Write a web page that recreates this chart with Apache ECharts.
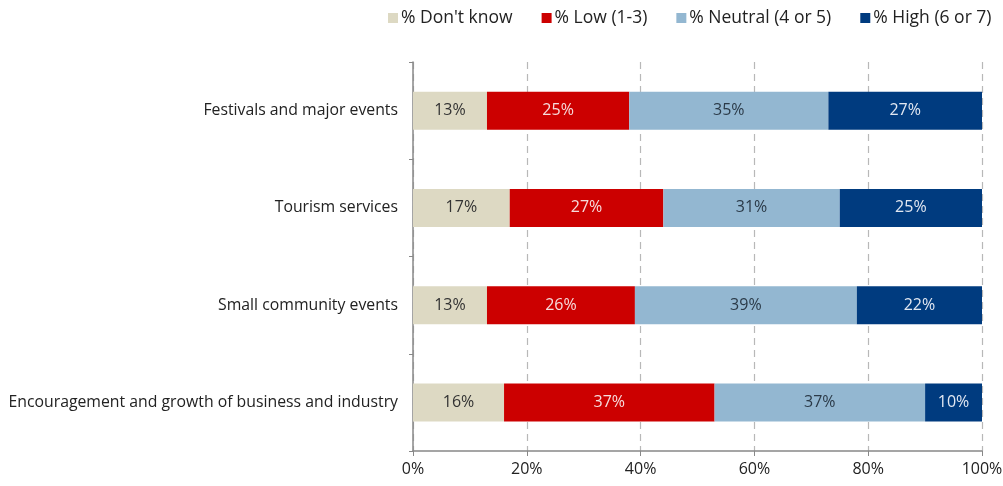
<!DOCTYPE html>
<html>
<head>
<meta charset="utf-8">
<style>
  html, body { margin: 0; padding: 0; background: #fff; }
  #chart { width: 1003px; height: 486px; }
</style>
<script src="https://cdn.jsdelivr.net/npm/echarts@6/dist/echarts.min.js"></script>
</head>
<body>
<div id="chart"></div>
<script>
// Categories listed bottom-to-top (category axis runs upward)
const categories = [
  'Encouragement and growth of business and industry',
  'Small community events',
  'Tourism services',
  'Festivals and major events'
];
const dontKnow = [16, 13, 17, 13];
const low      = [37, 26, 27, 25];
const neutral  = [37, 39, 31, 35];
const high     = [10, 22, 25, 27];
const xTicks = [0, 20, 40, 60, 80, 100];

const FONT = 'Open Sans';

function seriesDef(name, data, color, labelColor) {
  return {
    name: name,
    type: 'bar',
    stack: 'total',
    data: data,
    barWidth: 38,
    itemStyle: { color: color },
    label: {
      show: true,
      position: 'inside',
      formatter: p => p.value + '%',
      color: labelColor,
      fontFamily: FONT,
      fontSize: 16
    }
  };
}

const chart = echarts.init(document.getElementById('chart'));
chart.setOption({
  animation: false,
  textStyle: { fontFamily: FONT },
  legend: {
    top: 4,
    left: 383,
    itemWidth: 10,
    itemHeight: 10,
    itemGap: 29,
    icon: 'rect',
    textStyle: { fontFamily: FONT, fontSize: 17.5, color: '#222', padding: [0, 0, 0, -2] },
    data: ['% Don\'t know', '% Low (1-3)', '% Neutral (4 or 5)', '% High (6 or 7)']
  },
  grid: { left: 413, right: 21, top: 62, bottom: 35, containLabel: false, outerBoundsMode: 'none' },
  xAxis: {
    type: 'value',
    min: xTicks[0],
    max: xTicks[xTicks.length - 1],
    interval: 20,
    axisLine: { show: true, lineStyle: { color: '#888', width: 1.5 } },
    axisTick: { show: true, length: 5, lineStyle: { color: '#888' } },
    axisLabel: {
      formatter: v => v + '%',
      color: '#222',
      fontFamily: FONT,
      fontSize: 16,
      margin: 10
    },
    splitLine: {
      show: true,
      lineStyle: { color: '#b8b8b8', type: [7, 5], width: 1.2 }
    }
  },
  yAxis: {
    type: 'category',
    data: categories,
    axisLine: { show: true, lineStyle: { color: '#888', width: 1.5 } },
    axisTick: { show: true, length: 4, lineStyle: { color: '#888' } },
    axisLabel: {
      color: '#222',
      fontFamily: FONT,
      fontSize: 15.8,
      margin: 15
    }
  },
  series: [
    seriesDef('% Don\'t know', dontKnow, '#ddd9c3', '#333'),
    seriesDef('% Low (1-3)', low, '#cc0000', '#f6dcdc'),
    seriesDef('% Neutral (4 or 5)', neutral, '#93b7d1', '#2b3a48'),
    seriesDef('% High (6 or 7)', high, '#003b7f', '#e2e8f2')
  ]
});
</script>
</body>
</html>
